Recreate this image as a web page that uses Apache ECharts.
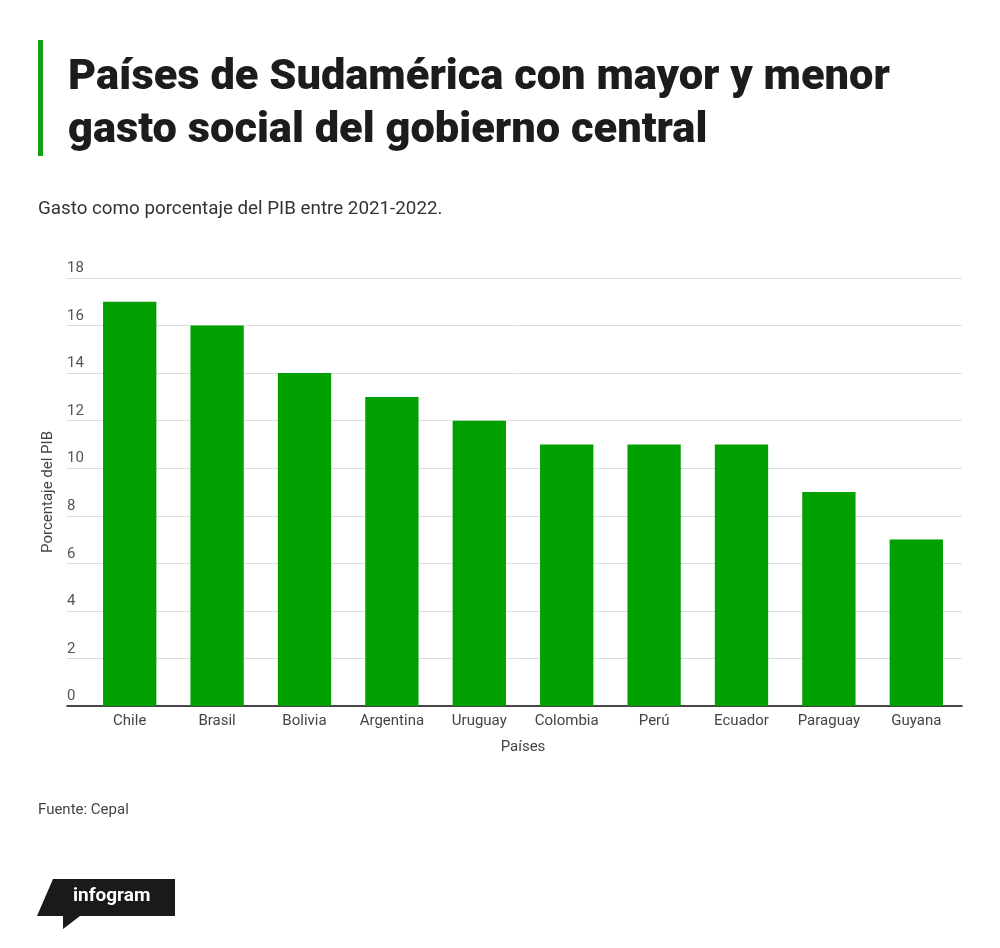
<!DOCTYPE html>
<html><head><meta charset="utf-8">
<script src="https://cdn.jsdelivr.net/npm/echarts@6/dist/echarts.min.js"></script>
<style>html,body{margin:0;padding:0;background:#fff;}#c{width:1000px;height:948px;}</style>
</head><body><div id="c"></div>
<script>
const categories = ['Chile','Brasil','Bolivia','Argentina','Uruguay','Colombia','Perú','Ecuador','Paraguay','Guyana'];
const values = [17,16,14,13,12,11,11,11,9,7];
const yTicks = [0,2,4,6,8,10,12,14,16,18];
const titleLines = ['Países de Sudamérica con mayor y menor','gasto social del gobierno central'];
const subtitle = 'Gasto como porcentaje del PIB entre 2021-2022.';
const source = 'Fuente: Cepal';

const chart = echarts.init(document.getElementById('c'));
const font = 'Roboto, "Liberation Sans", sans-serif';
chart.setOption({
  backgroundColor:'#fff',
  animation:false,
  grid:[
    {left:86, right:40, top:278, bottom:242},
    {left:67, right:38, top:278, bottom:242}
  ],
  xAxis:[
    {type:'category', gridIndex:0, data:categories,
     axisLine:{show:false}, axisTick:{show:false},
     axisLabel:{color:'#444', fontSize:15, fontFamily:font, margin:8},
     name:'Países', nameLocation:'middle', nameGap:34,
     nameTextStyle:{color:'#444', fontSize:15, fontFamily:font}},
    {type:'value', gridIndex:1, min:0, max:1, show:true,
     axisLine:{show:true, lineStyle:{color:'#111', width:1.5}},
     axisTick:{show:false}, axisLabel:{show:false}, splitLine:{show:false}}
  ],
  yAxis:[
    {type:'value', gridIndex:0, min:0, max:18, interval:2, show:false},
    {type:'value', gridIndex:1, min:yTicks[0], max:yTicks[yTicks.length-1], interval:yTicks[1]-yTicks[0],
     axisLine:{show:false}, axisTick:{show:false},
     axisLabel:{inside:true, margin:0, align:'left', verticalAlign:'bottom', padding:[0,0,2,0],
       color:'#555', fontSize:15, fontFamily:font},
     splitLine:{lineStyle:{color:'#ddd', width:1}},
     name:'Porcentaje del PIB', nameLocation:'middle', nameGap:9, nameRotate:90,
     nameTextStyle:{color:'#444', fontSize:15, fontFamily:font}}
  ],
  series:[{type:'bar', xAxisIndex:0, yAxisIndex:0, data:values, barCategoryGap:'39%',
    itemStyle:{color:'#00a000'}}],
  graphic:[
    {type:'rect', left:38, top:40, shape:{width:5, height:116}, style:{fill:'#13a013'}},
    {type:'text', left:68, top:57, style:{text:titleLines[0], fill:'#1c1c1c',
      font:'900 43.4px '+font}},
    {type:'text', left:68, top:110, style:{text:titleLines[1], fill:'#1c1c1c',
      font:'900 43.4px '+font}},
    {type:'text', left:38, top:200, style:{text:subtitle, fill:'#333', font:'18.8px '+font}},
    {type:'text', left:38, top:803, style:{text:source, fill:'#444', font:'15px '+font}},
    {type:'polygon', shape:{points:[[53,879],[175,879],[175,916],[80,916],[63,929],[63,916],[37,916]]},
      style:{fill:'#1a1a1a'}},
    {type:'text', left:73, top:887, style:{text:'infogram', fill:'#fff', font:'bold 19px '+font}}
  ]
});
</script></body></html>
